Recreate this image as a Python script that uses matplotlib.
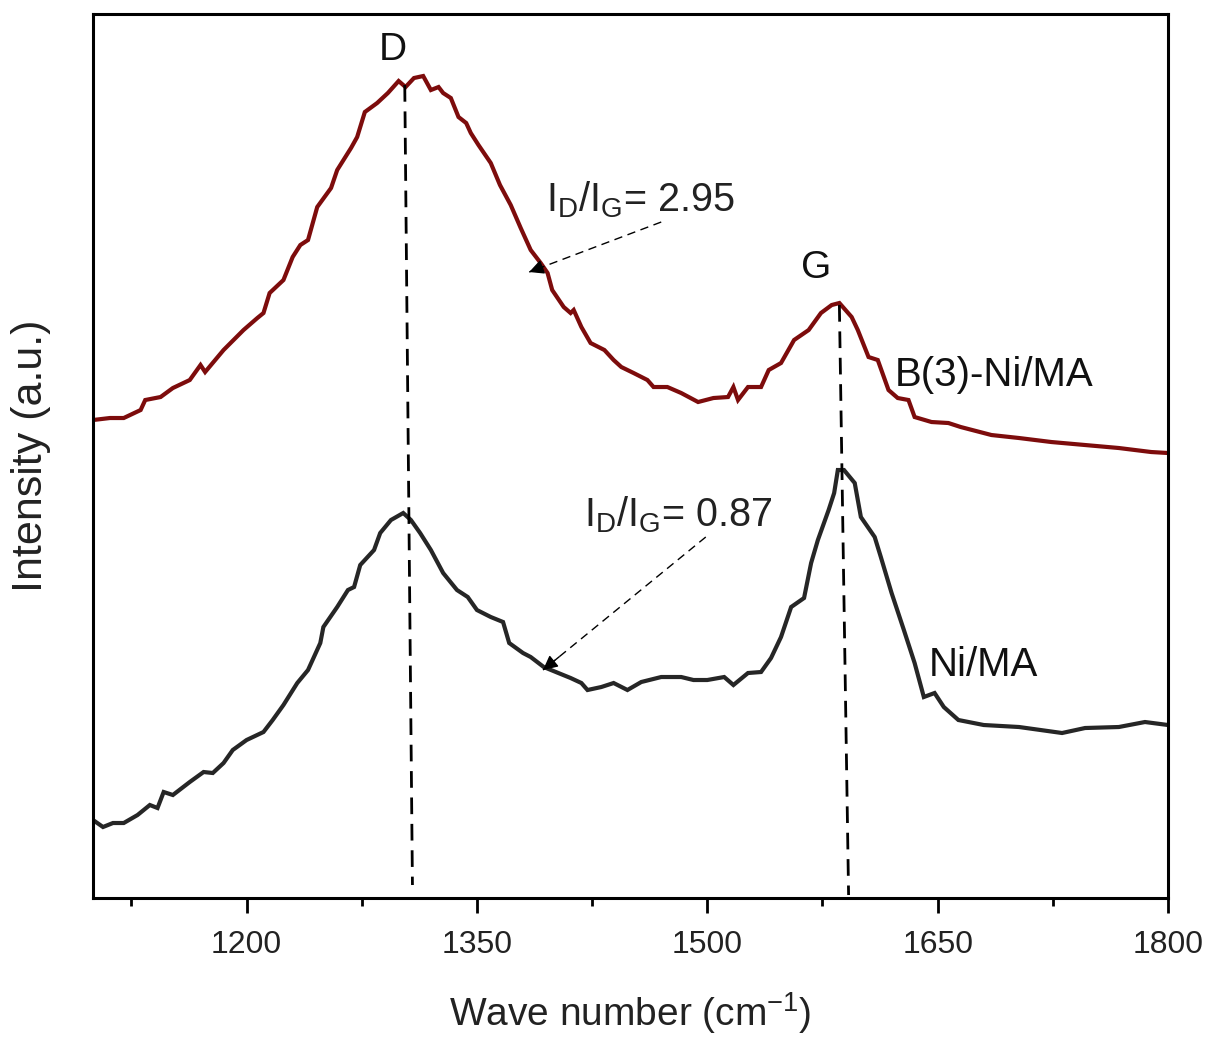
import matplotlib
matplotlib.use("Agg")
import matplotlib.pyplot as plt
from matplotlib.ticker import MultipleLocator

plt.rcParams['font.family'] = ['Liberation Sans', 'DejaVu Sans']
plt.rcParams['mathtext.default'] = 'regular'

# Spectrum B(3)-Ni/MA (wavenumber, intensity a.u.)
wn_b3 = [1100, 1111, 1120, 1131, 1134, 1144, 1152, 1163, 1170, 1173, 1185, 1198, 1207,
         1211, 1215, 1224, 1230, 1235, 1240, 1246, 1255, 1259, 1268, 1272, 1277, 1285,
         1292, 1299, 1303.5, 1309, 1315, 1320, 1325, 1328, 1333, 1338, 1343, 1346, 1351,
         1359, 1365, 1372, 1378.5, 1385, 1391.5, 1396, 1399, 1406.5, 1411, 1413, 1418,
         1424, 1433, 1439, 1444, 1452, 1461, 1465, 1474, 1483, 1494, 1504, 1513.5, 1517,
         1520, 1526.5, 1535, 1540, 1548, 1556.5, 1566, 1574, 1581, 1586, 1594, 1598,
         1605, 1611, 1618, 1624, 1631, 1635, 1646, 1657, 1665, 1685, 1703, 1724, 1746,
         1768, 1789, 1800]
int_b3 = [478, 480, 480, 488, 498, 501, 510, 518, 533, 526, 548, 568, 580,
          585, 605, 618, 641, 653, 658, 691, 710, 728, 750, 761, 786, 795,
          805, 817, 811, 820, 822, 808, 811, 805, 800, 781, 775, 765, 753,
          735, 713, 693, 670, 648, 635, 625, 608, 591, 585, 588, 571,
          555, 548, 538, 531, 525, 518, 511, 511, 505, 496, 500, 501, 511,
          498, 511, 511, 528, 535, 558, 568, 585, 593, 595, 581, 568,
          541, 538, 508, 500, 498, 481, 476, 475, 471, 463, 460, 456, 453,
          450, 446, 445]

# Spectrum Ni/MA
wn_ni = [1100, 1106.5, 1113, 1120, 1129, 1137, 1142, 1146, 1152, 1163, 1172, 1178, 1185,
         1191, 1200, 1211, 1217, 1224, 1233, 1240, 1248, 1250, 1259, 1266, 1270, 1274,
         1283, 1287, 1294, 1302, 1307, 1313, 1320, 1328, 1337, 1344, 1350, 1359, 1367,
         1371, 1380, 1385, 1393.5, 1403, 1411, 1418, 1422, 1431, 1439, 1448, 1457, 1470,
         1483, 1491, 1500, 1511, 1517, 1526.5, 1535, 1541.5, 1548, 1554.6, 1563, 1567.6,
         1572, 1579, 1582.6, 1585, 1589, 1596, 1600, 1609, 1613, 1620, 1628, 1635, 1641,
         1648, 1654, 1663.5, 1680, 1703, 1731, 1746, 1768, 1785, 1800]
int_ni = [78, 71, 75, 75, 83, 93, 90, 106, 103, 116, 126, 125, 135,
          148, 158, 166, 178, 193, 215, 228, 255, 271, 291, 308, 311, 333,
          348, 365, 378, 385, 378, 365, 348, 325, 308, 301, 288, 281, 276,
          255, 245, 241, 231, 225, 220, 215, 208, 211, 215, 208, 216, 221,
          221, 218, 218, 221, 213, 225, 226, 240, 261, 291, 300, 335,
          358, 388, 405, 428, 428, 415, 381, 361, 341, 305, 268, 235, 201,
          205, 191, 178, 173, 171, 165, 170, 171, 176, 173]

# Peak guide lines (x, y endpoints)
d_line_x = [1303, 1308]
d_line_y = [813, 13]
g_line_x = [1586, 1592]
g_line_y = [593, 3]

# Annotations
ratio_texts = ["I$_{D}$/I$_{G}$= 2.95", "I$_{D}$/I$_{G}$= 0.87"]
ratio_text_pos = [(1395, 698), (1420, 383)]
ratio_arrow_start = [(1470, 676), (1499, 361)]
ratio_arrow_tip = [(1384, 626), (1393, 228)]

peak_labels = ["D", "G"]
peak_label_pos = [(1295, 848), (1571, 630)]
sample_labels = ["B(3)-Ni/MA", "Ni/MA"]
sample_label_pos = [(1622, 523), (1644, 233)]

fig = plt.figure(figsize=(12.08, 10.39), dpi=100)
ax = fig.add_axes([0.077, 0.1357, 0.8899, 0.8508])

ax.plot(wn_b3, int_b3, color='#7d0c0c', lw=3.0, solid_joinstyle='miter')
ax.plot(wn_ni, int_ni, color='#262626', lw=3.0, solid_joinstyle='miter')

ax.plot(d_line_x, d_line_y, color='black', lw=2.0, dashes=(6, 3.5))
ax.plot(g_line_x, g_line_y, color='black', lw=2.0, dashes=(6, 3.5))

for txt, pos, st, tip in zip(ratio_texts, ratio_text_pos, ratio_arrow_start, ratio_arrow_tip):
    ax.text(pos[0], pos[1], txt, fontsize=28.5, ha='left', va='center', color='#222222')
    ax.plot([st[0], tip[0]], [st[1], tip[1]], color='black', lw=1.0, dashes=(6, 4))
    back = (tip[0] + 0.1 * (st[0] - tip[0]), tip[1] + 0.1 * (st[1] - tip[1]))
    ax.annotate('', xy=tip, xytext=back,
                arrowprops=dict(arrowstyle='-|>', color='black', lw=1.0,
                                mutation_scale=22, shrinkA=0, shrinkB=0))

for txt, pos in zip(peak_labels, peak_label_pos):
    ax.text(pos[0], pos[1], txt, fontsize=28, ha='center', va='center', color='#111111')
for txt, pos in zip(sample_labels, sample_label_pos):
    ax.text(pos[0], pos[1], txt, fontsize=29, ha='left', va='center', color='#111111')

ax.set_xlim(1100, 1800)
ax.set_ylim(0, 884)
ax.xaxis.set_minor_locator(MultipleLocator(75))
ax.set_xticks([1200, 1350, 1500, 1650, 1800])
ax.set_yticks([])
ax.tick_params(axis='x', which='major', direction='out', length=11, width=2.0,
               labelsize=23, pad=12, labelcolor='#222222')
ax.tick_params(axis='x', which='minor', direction='out', length=6, width=2.0)
for s in ax.spines.values():
    s.set_linewidth(2.2)

ax.set_xlabel('Wave number (cm$^{-1}$)', fontsize=28, labelpad=22, color='#222222')
ax.set_ylabel('Intensity (a.u.)', fontsize=31, labelpad=30, color='#222222')

fig.savefig('out.png', dpi=100)
